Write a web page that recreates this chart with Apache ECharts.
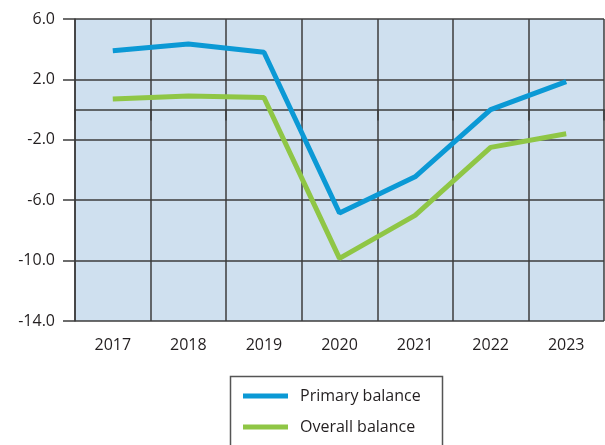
<!DOCTYPE html>
<html>
<head>
<meta charset="utf-8">
<script src="https://cdn.jsdelivr.net/npm/echarts@6/dist/echarts.min.js"></script>
<style>
  html, body { margin: 0; padding: 0; background: #fff; }
  #chart { width: 605px; height: 445px; }
</style>
</head>
<body>
<div id="chart"></div>
<script>
const years = ['2017', '2018', '2019', '2020', '2021', '2022', '2023'];
const primaryBalance = [3.9, 4.35, 3.8, -6.85, -4.45, 0.0, 1.85];
const overallBalance = [0.7, 0.9, 0.8, -9.85, -7.0, -2.5, -1.6];

const chart = echarts.init(document.getElementById('chart'));
const font = '"Open Sans", "Noto Sans", sans-serif';
const gridColor = '#3c3c3c';

chart.setOption({
    animation: false,
    textStyle: { fontFamily: font },
    grid: {
        left: 75, right: 1, top: 19, bottom: 124,
        show: true,
        backgroundColor: '#cfe0ef',
        borderWidth: 0
    },
    // legend frame runs past the bottom edge, as in the original
    graphic: [{
        type: 'rect',
        shape: { x: 230.5, y: 376.5, width: 212, height: 100 },
        style: { fill: 'none', stroke: '#555', lineWidth: 1.5 },
        silent: true
    }],
    legend: {
        orient: 'vertical',
        left: 243,
        top: 386,
        padding: 0,
        itemGap: 11,
        icon: 'rect',
        itemWidth: 45,
        itemHeight: 5,
        textStyle: { fontSize: 16, color: '#231f20', lineHeight: 20, padding: [0, 0, 0, 7] },
        data: ['Primary balance', 'Overall balance']
    },
    xAxis: {
        type: 'category',
        data: years,
        boundaryGap: true,
        axisLine: { show: true, lineStyle: { color: gridColor, width: 1.5 } },
        axisTick: { show: true, length: 11, lineStyle: { color: gridColor, width: 1.5 } },
        axisLabel: { color: '#231f20', fontSize: 16, margin: 16 },
        splitLine: { show: true, lineStyle: { color: gridColor, width: 1.5 } }
    },
    yAxis: {
        type: 'value',
        min: -14,
        max: 6,
        interval: 4,
        axisLine: { show: true, lineStyle: { color: gridColor, width: 1.5 } },
        axisTick: { show: true, length: 12, lineStyle: { color: gridColor, width: 1.5 } },
        axisLabel: {
            color: '#231f20', fontSize: 16, margin: 20,
            formatter: v => v.toFixed(1)
        },
        splitLine: { show: true, lineStyle: { color: gridColor, width: 1.5 } }
    },
    series: [
        {
            name: 'Primary balance',
            type: 'line',
            data: primaryBalance,
            symbol: 'none',
            color: '#0b99d5',
            lineStyle: { width: 5, color: '#0b99d5' }
        },
        {
            name: 'Overall balance',
            type: 'line',
            data: overallBalance,
            symbol: 'none',
            color: '#8fc645',
            lineStyle: { width: 5, color: '#8fc645' }
        }
    ]
});
</script>
</body>
</html>
